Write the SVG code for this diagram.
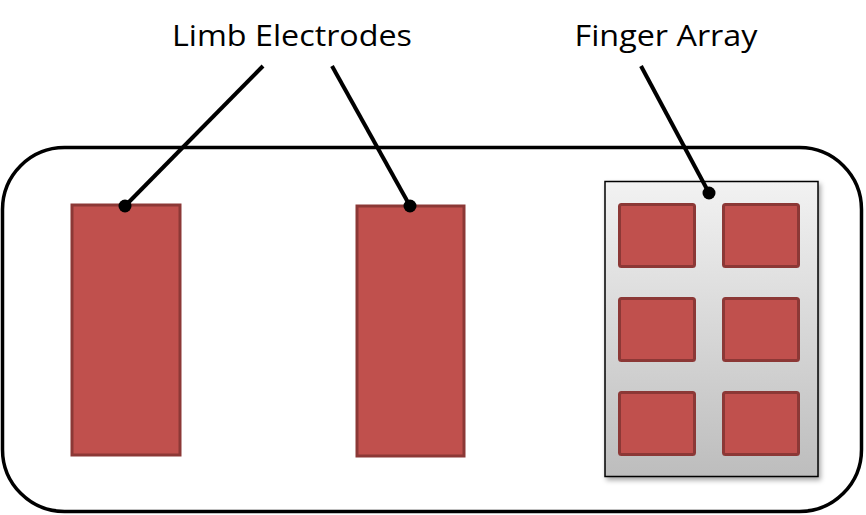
<svg xmlns="http://www.w3.org/2000/svg" width="866" height="515" viewBox="0 0 866 515">
<defs>
<linearGradient id="panelGrad" x1="0" y1="0" x2="0" y2="1">
<stop offset="0" stop-color="#f2f2f2"/>
<stop offset="1" stop-color="#bdbdbd"/>
</linearGradient>
<filter id="shadow" x="-10%" y="-10%" width="125%" height="125%">
<feDropShadow dx="2" dy="3" stdDeviation="2.5" flood-color="#000" flood-opacity="0.35"/>
</filter>
<style>
.elec{fill:#C0504D;stroke:#8C3836;stroke-width:3}
.lbl{font-family:"Open Sans","Liberation Sans",sans-serif;font-size:30px;fill:#000;text-anchor:middle}
.conn{stroke:#000;stroke-width:4;fill:none}
</style>
</defs>
<rect x="2.5" y="147.5" width="859" height="364" rx="62" ry="62" fill="#fff" stroke="#000" stroke-width="3.5"/>
<g id="limb1"><rect class="elec" x="72" y="205" width="108" height="250"/></g>
<g id="limb2"><rect class="elec" x="357" y="206" width="107" height="250"/></g>
<g id="finger-array">
<rect x="605" y="181.5" width="213" height="295" fill="url(#panelGrad)" stroke="#000" stroke-width="1.5" filter="url(#shadow)"/>
<rect class="elec" x="619.5" y="204.5" width="75" height="62" rx="2"/>
<rect class="elec" x="723.5" y="204.5" width="75" height="62" rx="2"/>
<rect class="elec" x="619.5" y="298.5" width="75" height="62" rx="2"/>
<rect class="elec" x="723.5" y="298.5" width="75" height="62" rx="2"/>
<rect class="elec" x="619.5" y="392.5" width="75" height="62" rx="2"/>
<rect class="elec" x="723.5" y="392.5" width="75" height="62" rx="2"/>
</g>
<g id="label-limb"><text class="lbl" x="292" y="46" textLength="240" lengthAdjust="spacingAndGlyphs">Limb Electrodes</text></g>
<g id="label-finger"><text class="lbl" x="666" y="46" textLength="183" lengthAdjust="spacingAndGlyphs">Finger Array</text></g>
<g id="connectors">
<line class="conn" x1="263" y1="66" x2="125" y2="206"/>
<circle cx="125" cy="206" r="6.5"/>
<line class="conn" x1="332" y1="66" x2="410" y2="206"/>
<circle cx="410" cy="206" r="6.5"/>
<line class="conn" x1="641" y1="66" x2="709" y2="193"/>
<circle cx="709" cy="193" r="6.5"/>
</g>
</svg>
